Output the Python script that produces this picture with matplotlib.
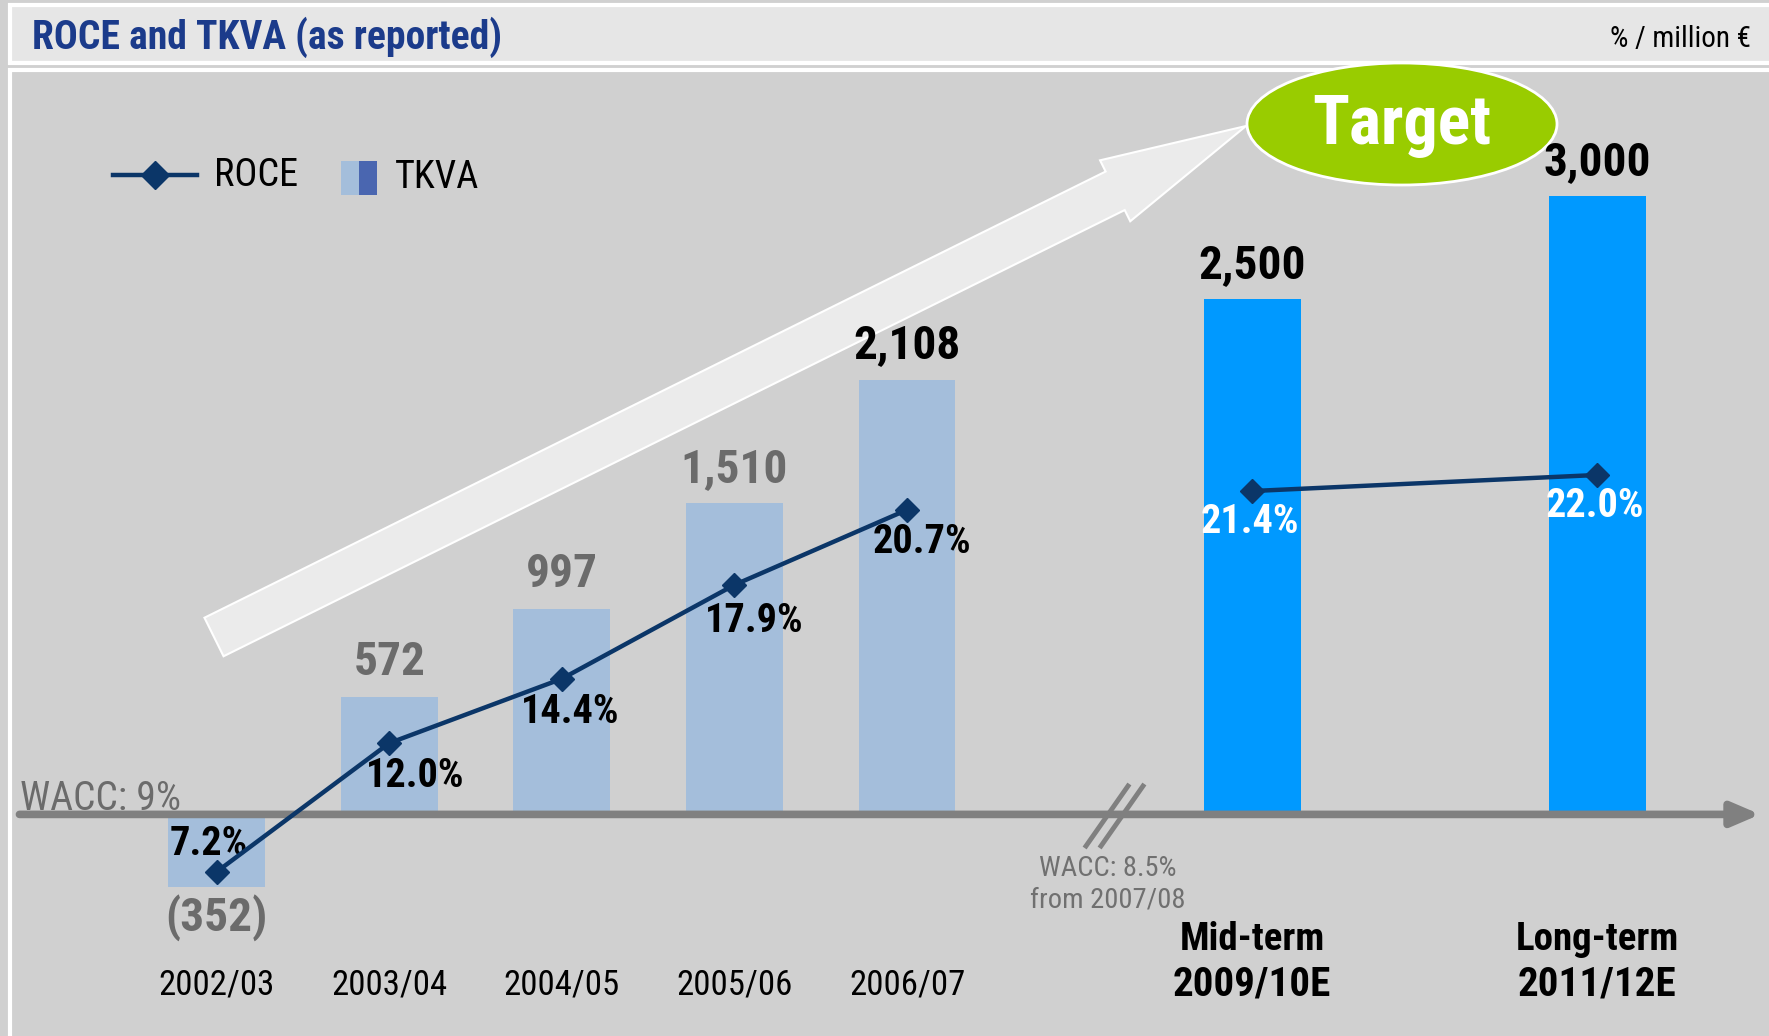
import matplotlib
matplotlib.use("Agg")
import numpy as np
import matplotlib.pyplot as plt
from matplotlib import font_manager
from matplotlib.patches import Rectangle, Ellipse, FancyArrow
from matplotlib.lines import Line2D
from matplotlib.transforms import blended_transform_factory

# data
years = ["2002/03", "2003/04", "2004/05", "2005/06", "2006/07"]
target_terms = ["Mid-term", "Long-term"]
target_years = ["2009/10E", "2011/12E"]
tkva_hist = [-352, 572, 997, 1510, 2108]
tkva_target = [2500, 3000]
roce_hist = [7.2, 12.0, 14.4, 17.9, 20.7]
roce_target = [21.4, 22.0]

# pick a narrow font if there is one
avail = {f.name for f in font_manager.fontManager.ttflist}
FONT = next(c for c in ["Roboto Condensed", "Liberation Sans Narrow", "DejaVu Sans"] if c in avail)
plt.rcParams["font.family"] = [FONT, "DejaVu Sans"]

W, H = 1769, 1036
NAVY = "#0b3668"
LIGHT = "#a4bedb"
BLUE = "#0099ff"
GREY_TXT = "#6b6b6b"

fig = plt.figure(figsize=(W / 100, H / 100), dpi=100, facecolor="#d0d0d0")

# background layer in pixel coords (y down)
bg = fig.add_axes([0, 0, 1, 1])
bg.set_xlim(0, W)
bg.set_ylim(H, 0)
bg.axis("off")
bg.set_zorder(0)
P = bg.transData

bg.add_patch(Rectangle((10, 5), W, 58, fc="#e6e6e6", ec="white", lw=3))
bg.add_patch(Rectangle((10, 70), W, H, fc="#d0d0d0", ec="white", lw=3))
bg.text(32, 37, "ROCE and TKVA (as reported)", color="#1b3b8b", fontsize=28.5,
        fontweight="bold", va="center", ha="left")
bg.text(1751, 39, "% / million €", color="black", fontsize=21, va="center", ha="right")

# big growth arrow
bg.add_patch(FancyArrow(214, 637, 1032, -511, width=43, head_width=68, head_length=146,
                        length_includes_head=True, fc="#ebebeb", ec="white", lw=1.5))
# target bubble
bg.add_patch(Ellipse((1402, 124), 310, 122, fc="#99cc00", ec="white", lw=2, clip_on=False))
bg.text(1402, 126, "Target", color="white", fontsize=49, fontweight="bold",
        ha="center", va="center")

# legend
bg.plot([113, 197], [175, 175], color=NAVY, lw=3.2)
bg.plot([155], [175], marker="D", color=NAVY, markersize=14)
bg.text(214, 176, "ROCE", fontsize=27.5, va="center", ha="left")
bg.add_patch(Rectangle((341, 161), 18, 34, fc=LIGHT, ec="none"))
bg.add_patch(Rectangle((359, 161), 18, 34, fc="#4a66b0", ec="none"))
bg.text(395, 178, "TKVA", fontsize=27.5, va="center", ha="left")

# main axes: bars in TKVA units, line in ROCE %
ax = fig.add_axes([0, 0, 1, 1])
ax.set_zorder(1)
ax.patch.set_visible(False)
ax.set_xlim(-1.255, 8.994)
ax.set_ylim(-1075.6, 3953)
ax.axis("off")

x_hist = np.arange(len(years))
x_target = len(years) + 1 + 2 * np.arange(len(target_years))

ax.bar(x_hist, tkva_hist, width=0.56, color=LIGHT, zorder=2)
ax.bar(x_target, tkva_target, width=0.56, color=BLUE, zorder=2)

# baseline arrow
ax.annotate("", xy=(0.995, 0), xytext=(0.011, 0),
            xycoords=("axes fraction", "data"), textcoords=("axes fraction", "data"),
            arrowprops=dict(arrowstyle="-|>,head_length=0.7,head_width=0.3", color="#808080",
                            lw=5.5, mutation_scale=24, shrinkA=0, shrinkB=0), zorder=3)
# axis break
for dx in (0, 15):
    ax.add_line(Line2D([1086 + dx, 1128 + dx], [846, 786], color="#808080", lw=3.5,
                       transform=P, clip_on=False, zorder=3))

ax.text(20, 799, "WACC: 9%", transform=P, color=GREY_TXT, fontsize=28.5, va="center", ha="left")
ax.text(1108, 869, "WACC: 8.5%", transform=P, color="#707070", fontsize=20.5, va="center", ha="center")
ax.text(1108, 900, "from 2007/08", transform=P, color="#707070", fontsize=20.5, va="center", ha="center")

# TKVA labels
for i, (x, v) in enumerate(zip(x_hist, tkva_hist)):
    if v < 0:
        ax.annotate(f"({-v:,})", (x, v), xytext=(0, -22), textcoords="offset points",
                    ha="center", va="center", fontsize=34, fontweight="bold", color=GREY_TXT)
    else:
        col = "black" if i == len(tkva_hist) - 1 else GREY_TXT
        ax.annotate(f"{v:,}", (x, v), xytext=(0, 25), textcoords="offset points",
                    ha="center", va="center", fontsize=34, fontweight="bold", color=col)
for x, v in zip(x_target, tkva_target):
    ax.annotate(f"{v:,}", (x, v), xytext=(0, 25), textcoords="offset points",
                ha="center", va="center", fontsize=34, fontweight="bold", color="black")

# category labels
tr = blended_transform_factory(ax.transData, P)
for x, lab in zip(x_hist, years):
    ax.text(x, 985, lab, transform=tr, ha="center", va="center", fontsize=25)
for x, term, yr in zip(x_target, target_terms, target_years):
    ax.text(x, 940, term, transform=tr, ha="center", va="center", fontsize=28, fontweight="bold")
    ax.text(x, 984, yr, transform=tr, ha="center", va="center", fontsize=29.5, fontweight="bold")

# ROCE
ax2 = ax.twinx()
ax2.set_zorder(2)
ax2.set_ylim(1.08, 39.71)
ax2.axis("off")
ax2.plot(x_hist, roce_hist, color=NAVY, lw=3.2, marker="D", markersize=12, zorder=4)
ax2.plot(x_target, roce_target, color=NAVY, lw=3.2, marker="D", markersize=12, zorder=4)

hist_offsets = [(-6, 20), (19, -24), (6, -24), (14, -26), (11, -23)]
for x, v, off in zip(x_hist, roce_hist, hist_offsets):
    ax2.annotate(f"{v:.1f}%", (x, v), xytext=off, textcoords="offset points",
                 ha="center", va="center", fontsize=29, fontweight="bold", color="black")
for x, v in zip(x_target, roce_target):
    ax2.annotate(f"{v:.1f}%", (x, v), xytext=(-2, -22), textcoords="offset points",
                 ha="center", va="center", fontsize=29, fontweight="bold", color="white")

fig.savefig("out.png", dpi=100, facecolor=fig.get_facecolor())
